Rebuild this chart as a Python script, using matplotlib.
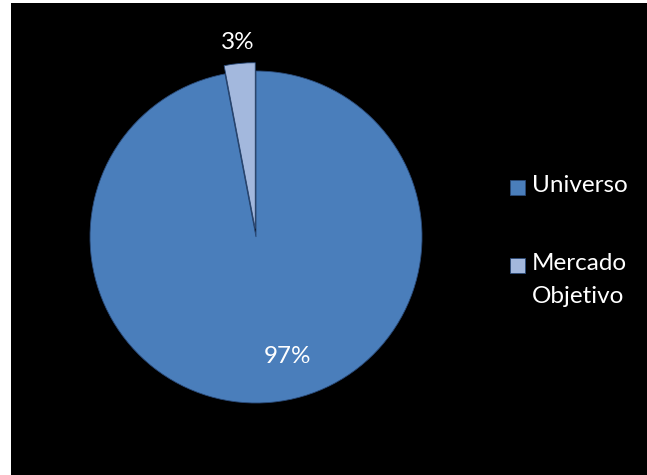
import matplotlib
matplotlib.use('Agg')
import matplotlib.pyplot as plt
from matplotlib.patches import Rectangle

labels = ['Universo', 'Mercado\nObjetivo']
values = [97, 3]
pct_labels = ['97%', '3%']
colors = ['#4A7EBB', '#A3B8DD']
explode = [0, 0.05]

BG = '#000000'
FONT = 'Lato'

fig = plt.figure(figsize=(6.47, 4.75), dpi=100)
fig.patch.set_facecolor('white')
# black chart area (thin white strip on left and top as in the source)
bg_ax = fig.add_axes([11 / 647, 0, 1 - 11 / 647, 472 / 475], zorder=0)
bg_ax.set_facecolor(BG)
bg_ax.set_xticks([])
bg_ax.set_yticks([])
for s in bg_ax.spines.values():
    s.set_visible(False)

ax = fig.add_axes([0.075, 0.0642, 0.6414, 0.8737], zorder=2)
ax.set_facecolor('none')
wedges, _ = ax.pie(values, colors=colors, explode=explode, startangle=90,
                   counterclock=False,
                   wedgeprops=dict(edgecolor='#2A4A78', linewidth=0.6))
ax.set_xlim(-1.25, 1.25)
ax.set_ylim(-1.25, 1.25)
ax.axis('off')

# data labels
ax.text(0.19, -0.72, pct_labels[0], color='white', fontsize=17.5,
        ha='center', va='center', fontfamily=FONT)
ax.text(-0.11, 1.17, pct_labels[1], color='white', fontsize=17.5,
        ha='center', va='center', fontfamily=FONT)

# legend (Excel-style: marker aligned with the first line)
leg_y = [187, 265]
for lab, col, y in zip(labels, colors, leg_y):
    fig.patches.append(Rectangle((510 / 647, 1 - (y + 7.5) / 475),
                                 15 / 647, 15 / 475,
                                 transform=fig.transFigure, facecolor=col,
                                 edgecolor='#2A4A78', linewidth=0.6,
                                 zorder=3))
    fig.text(532 / 647, 1 - (y - 12) / 475, lab, color='white',
             fontsize=17.5, ha='left', va='top', fontfamily=FONT,
             linespacing=1.7, zorder=3)

fig.savefig('out.png', dpi=100, facecolor=fig.get_facecolor())
plt.close(fig)
